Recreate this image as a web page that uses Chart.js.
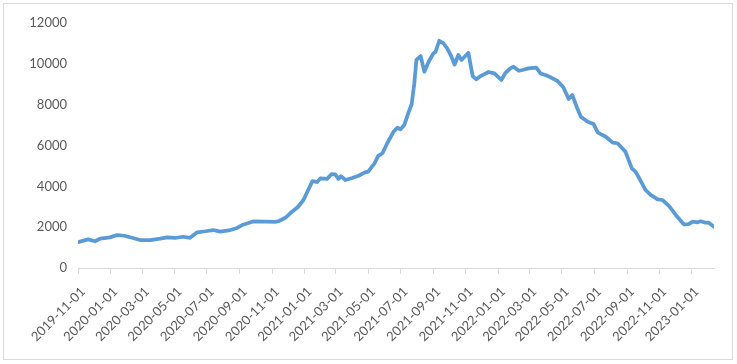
<!DOCTYPE html>
<html>
<head>
<meta charset="utf-8">
<script src="https://cdn.jsdelivr.net/npm/chart.js@4.4.0/dist/chart.umd.min.js"></script>
<style>
  html, body { margin: 0; padding: 0; background: #ffffff; }
  #wrap { width: 737px; height: 364px; position: relative; }
</style>
</head>
<body>
<div id="wrap"><canvas id="c" width="737" height="364"></canvas></div>
<script>
const dates = [
  '2019-11-01','2019-11-20','2019-12-03','2019-12-13','2019-12-31','2020-01-14','2020-01-27','2020-02-11','2020-02-26','2020-03-16',
  '2020-04-04','2020-04-17','2020-05-02','2020-05-17','2020-05-30','2020-06-13','2020-06-28','2020-07-13','2020-07-26','2020-08-14',
  '2020-08-27','2020-09-07','2020-09-26','2020-10-19','2020-11-07','2020-11-14','2020-11-26','2020-12-05','2020-12-20','2020-12-30',
  '2021-01-08','2021-01-16','2021-01-25','2021-01-31','2021-02-13','2021-02-21','2021-02-28','2021-03-06','2021-03-11','2021-03-19',
  '2021-04-01','2021-04-13','2021-04-24','2021-05-01','2021-05-13','2021-05-20','2021-05-28','2021-06-06','2021-06-18','2021-06-25',
  '2021-07-01','2021-07-08','2021-07-16','2021-07-22','2021-07-27','2021-07-31','2021-08-08','2021-08-15','2021-08-23','2021-09-01',
  '2021-09-05','2021-09-12','2021-09-20','2021-09-27','2021-10-05','2021-10-11','2021-10-18','2021-10-24','2021-11-06','2021-11-14',
  '2021-11-21','2021-11-29','2021-12-14','2021-12-25','2022-01-07','2022-01-15','2022-01-24','2022-01-30','2022-02-09','2022-02-16',
  '2022-02-27','2022-03-14','2022-03-22','2022-03-31','2022-04-10','2022-04-23','2022-05-04','2022-05-14','2022-05-21','2022-05-29',
  '2022-06-06','2022-06-19','2022-06-30','2022-07-08','2022-07-23','2022-08-05','2022-08-14','2022-08-29','2022-09-10','2022-09-17',
  '2022-09-27','2022-10-06','2022-10-16','2022-10-29','2022-11-07','2022-11-19','2022-12-02','2022-12-17','2022-12-26','2023-01-03',
  '2023-01-12','2023-01-18','2023-01-27','2023-02-02','2023-02-12'
];
const values = [
  1270,1400,1310,1440,1500,1615,1580,1480,1370,1370,
  1435,1500,1470,1530,1480,1750,1800,1860,1780,1860,
  1960,2120,2280,2270,2260,2300,2460,2680,3000,3330,
  3820,4260,4210,4390,4370,4600,4590,4360,4500,4310,
  4410,4520,4670,4720,5130,5490,5620,6110,6680,6870,
  6790,7000,7610,8020,9040,10190,10380,9610,10100,10510,
  10590,11130,11000,10760,10350,9970,10430,10190,10540,9400,
  9240,9400,9600,9530,9210,9560,9780,9860,9660,9700,
  9780,9810,9530,9450,9340,9160,8850,8280,8470,7900,
  7410,7160,7050,6630,6430,6140,6110,5700,4880,4720,
  4260,3820,3570,3360,3330,3040,2600,2140,2150,2270,
  2240,2290,2220,2220,2020
];
const tickLabels = [
  '2019-11-01','2020-01-01','2020-03-01','2020-05-01','2020-07-01','2020-09-01','2020-11-01',
  '2021-01-01','2021-03-01','2021-05-01','2021-07-01','2021-09-01','2021-11-01',
  '2022-01-01','2022-03-01','2022-05-01','2022-07-01','2022-09-01','2022-11-01','2023-01-01'
];
const yTicks = [0, 2000, 4000, 6000, 8000, 10000, 12000];

const DAY = 86400000;
const base = Date.parse(dates[0] + 'T00:00:00Z');
const dayOf = s => Math.round((Date.parse(s + 'T00:00:00Z') - base) / DAY);
const labelByDay = {};
tickLabels.forEach(t => { labelByDay[dayOf(t)] = t; });

const points = dates.map((d, i) => ({ x: dayOf(d), y: values[i] }));

const frame = {
  id: 'frame',
  beforeDraw(chart) {
    const ctx = chart.ctx;
    ctx.save();
    ctx.fillStyle = '#ffffff';
    ctx.fillRect(0, 0, chart.width, chart.height);
    ctx.strokeStyle = '#d9d9d9';
    ctx.lineWidth = 1;
    ctx.strokeRect(3.5, 3.5, 729, 356);
    ctx.restore();
  }
};

const font = { family: 'Lato, "Open Sans", sans-serif', size: 13 };

new Chart(document.getElementById('c'), {
  type: 'line',
  data: {
    datasets: [{
      data: points,
      borderColor: '#5b9bd5',
      borderWidth: 3.75,
      pointRadius: 0,
      tension: 0,
      fill: false,
      borderJoinStyle: 'round',
      borderCapStyle: 'round'
    }]
  },
  plugins: [frame],
  options: {
    responsive: false,
    animation: false,
    layout: { padding: { top: 23, right: 23, bottom: 0, left: 0 } },
    plugins: { legend: { display: false }, tooltip: { enabled: false } },
    scales: {
      x: {
        type: 'linear',
        min: 0,
        max: dayOf(dates[dates.length - 1]),
        afterBuildTicks(scale) {
          scale.ticks = tickLabels.map(t => ({ value: dayOf(t) }));
        },
        afterFit(scale) { scale.height = 96; },
        ticks: {
          autoSkip: false,
          maxRotation: 45,
          minRotation: 45,
          color: '#595959',
          font: font,
          padding: 10,
          labelOffset: 5,
          callback: v => labelByDay[v] || ''
        },
        grid: {
          display: true,
          drawOnChartArea: false,
          drawTicks: true,
          tickLength: 6,
          color: '#d9d9d9'
        },
        border: { display: true, color: '#d9d9d9' }
      },
      y: {
        min: 0,
        max: 12000,
        afterBuildTicks(scale) {
          scale.ticks = yTicks.map(v => ({ value: v }));
        },
        afterFit(scale) { scale.width = 78; },
        ticks: { color: '#595959', font: font, padding: 11, callback: v => String(v) },
        grid: { display: false, drawTicks: false },
        border: { display: false }
      }
    }
  }
});
</script>
</body>
</html>
